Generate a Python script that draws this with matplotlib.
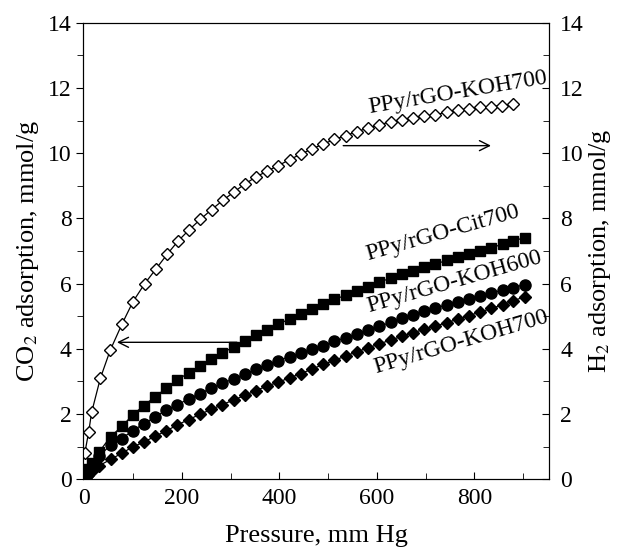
#!/usr/bin/env python3
"""CO2 / H2 adsorption isotherms of PPy/rGO carbons."""

import matplotlib
matplotlib.use("Agg")
import matplotlib.pyplot as plt
from matplotlib.ticker import MultipleLocator

# ---------------------------------------------------------------------------
# H2 uptake, PPy/rGO-KOH700 (right axis)
P_H2 = [1, 9, 15, 33, 53, 77, 100, 124, 147, 170, 192, 215, 238, 261, 284,
        306, 329, 352, 375, 398, 421, 444, 467, 490, 513, 536, 559, 582, 605,
        628, 651, 674, 697, 720, 743, 766, 789, 812, 834, 857, 880]
H2_KOH700 = [0.8, 1.45, 2.05, 3.1, 3.95, 4.75, 5.45, 6.0, 6.45, 6.9, 7.3,
             7.65, 7.97, 8.27, 8.55, 8.8, 9.05, 9.27, 9.45, 9.62, 9.8, 9.97,
             10.13, 10.28, 10.42, 10.54, 10.66, 10.77, 10.87, 10.96, 11.03,
             11.08, 11.13, 11.18, 11.25, 11.31, 11.36, 11.40, 11.43, 11.46,
             11.50]

# CO2 uptake (left axis)
P_CO2 = [1, 4, 8, 15, 31, 54, 77, 99, 122, 145, 168, 191, 214, 237, 260, 283,
         306, 329, 352, 375, 398, 421, 444, 467, 490, 513, 536, 559, 582, 605,
         628, 651, 674, 697, 720, 743, 766, 789, 812, 835, 858, 880, 903]
CO2_CIT700 = [0.05, 0.15, 0.3, 0.5, 0.85, 1.31, 1.62, 1.97, 2.26, 2.53, 2.79,
              3.04, 3.27, 3.48, 3.68, 3.88, 4.05, 4.24, 4.43, 4.58, 4.75,
              4.92, 5.06, 5.22, 5.37, 5.52, 5.64, 5.78, 5.91, 6.04, 6.17,
              6.29, 6.40, 6.50, 6.60, 6.71, 6.81, 6.91, 7.01, 7.10, 7.21,
              7.31, 7.41]
CO2_KOH600 = [0.03, 0.1, 0.2, 0.4, 0.72, 1.05, 1.25, 1.49, 1.70, 1.91, 2.12,
              2.29, 2.46, 2.63, 2.79, 2.94, 3.08, 3.22, 3.37, 3.51, 3.64,
              3.76, 3.86, 3.98, 4.10, 4.23, 4.34, 4.46, 4.57, 4.69, 4.81,
              4.93, 5.05, 5.15, 5.25, 5.35, 5.45, 5.54, 5.63, 5.71, 5.80,
              5.88, 5.97]
CO2_KOH700 = [0.02, 0.07, 0.13, 0.25, 0.42, 0.61, 0.80, 0.99, 1.14, 1.32,
              1.48, 1.67, 1.83, 1.99, 2.14, 2.29, 2.43, 2.57, 2.72, 2.86,
              2.98, 3.11, 3.24, 3.38, 3.52, 3.65, 3.78, 3.91, 4.03, 4.15,
              4.27, 4.38, 4.49, 4.60, 4.70, 4.80, 4.91, 5.02, 5.13, 5.24,
              5.35, 5.47, 5.60]

LABELS = ["PPy/rGO-KOH700", "PPy/rGO-Cit700", "PPy/rGO-KOH600", "PPy/rGO-KOH700"]

# ---------------------------------------------------------------------------
plt.rcParams["font.family"] = ["Liberation Serif", "DejaVu Serif"]
plt.rcParams["mathtext.fontset"] = "stix"

fig = plt.figure(figsize=(6.25, 5.47), dpi=100)
ax = fig.add_axes([0.1333, 0.1238, 0.7451, 0.8347])
ax2 = ax.twinx()

line_kw = dict(color="black", lw=0.9, mec="black")
ax2.plot(P_H2, H2_KOH700, marker="D", ms=6.4, mfc="white", mew=1.0, **line_kw)
ax.plot(P_CO2, CO2_CIT700, marker="s", ms=7.5, mfc="black", **line_kw)
ax.plot(P_CO2, CO2_KOH600, marker="o", ms=8.0, mfc="black", **line_kw)
ax.plot(P_CO2, CO2_KOH700, marker="D", ms=6.4, mfc="black", **line_kw)

for a in (ax, ax2):
    a.set_xlim(-2, 953)
    a.set_ylim(0, 14)
    a.yaxis.set_major_locator(MultipleLocator(2))
    a.yaxis.set_minor_locator(MultipleLocator(1))

ax.xaxis.set_major_locator(MultipleLocator(200))
ax.xaxis.set_minor_locator(MultipleLocator(100))

ax.tick_params(axis="y", which="both", direction="out", labelsize=17,
               right=False)
ax.tick_params(axis="y", which="major", length=5)
ax.tick_params(axis="y", which="minor", length=4)
ax.tick_params(axis="x", which="both", direction="in", labelsize=17,
               top=False, pad=6)
ax.tick_params(axis="x", which="major", length=5)
ax.tick_params(axis="x", which="minor", length=4)
ax2.tick_params(axis="y", which="both", direction="in", labelsize=17, pad=8)
ax2.tick_params(axis="y", which="major", length=5)
ax2.tick_params(axis="y", which="minor", length=4)

ax.set_xlabel("Pressure, mm Hg", fontsize=19, labelpad=12)
ax.set_ylabel("CO$_2$ adsorption, mmol/g", fontsize=19, labelpad=5)
ax2.set_ylabel("H$_2$ adsorption, mmol/g", fontsize=19, labelpad=2)

# arrows pointing to the axis each curve belongs to
arrow_kw = dict(arrowstyle="->", color="black", lw=1.0,
                mutation_scale=18, shrinkA=0, shrinkB=0)
ax.annotate("", xy=(67, 4.2), xytext=(313, 4.2), arrowprops=arrow_kw)
ax.annotate("", xy=(834, 10.23), xytext=(531, 10.23), arrowprops=arrow_kw)

text_kw = dict(fontsize=17, ha="center", va="center")
ax.text(767, 11.85, LABELS[0], rotation=9.5, **text_kw)
ax.text(735, 7.55, LABELS[1], rotation=16, **text_kw)
ax.text(760, 6.05, LABELS[2], rotation=16, **text_kw)
ax.text(772, 4.20, LABELS[3], rotation=16.5, **text_kw)

fig.savefig("out.png", dpi=100)
